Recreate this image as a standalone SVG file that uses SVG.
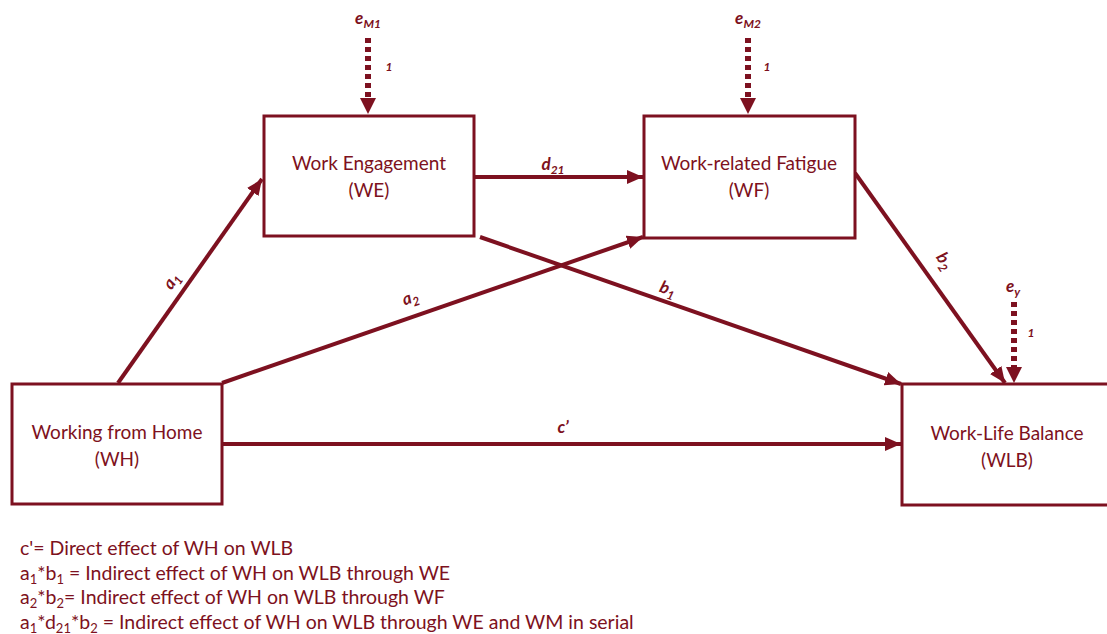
<svg xmlns="http://www.w3.org/2000/svg" width="1107" height="634" viewBox="0 0 1107 634">
<style>
.box{fill:#fff;stroke:#7d1120;stroke-width:3}
.ln{stroke:#7d1120;stroke-width:4;fill:none}
.dot{stroke:#7d1120;stroke-width:6;fill:none;stroke-dasharray:5 4}
.t{font-family:Lato,"Open Sans",sans-serif;font-size:19px;fill:#7d1120;text-anchor:middle}
.lb{font-family:Lato,"Open Sans",sans-serif;font-size:17px;font-weight:bold;font-style:italic;fill:#7d1120;text-anchor:middle}
.lg{font-family:Lato,"Open Sans",sans-serif;font-size:19.5px;fill:#7d1120}
.sub{font-size:12px}
.lsub{font-size:13px}
</style>
<defs>
<marker id="ah" markerUnits="userSpaceOnUse" markerWidth="18" markerHeight="16" refX="16" refY="8" orient="auto">
<path d="M0,1 L16,8 L0,15 Z" fill="#7d1120"/>
</marker>
</defs>
<g id="connectors">
<line class="ln" x1="118" y1="383" x2="262" y2="179" marker-end="url(#ah)"/>
<line class="ln" x1="222" y1="383" x2="643" y2="237" marker-end="url(#ah)"/>
<line class="ln" x1="474" y1="177" x2="643" y2="177" marker-end="url(#ah)"/>
<line class="ln" x1="480" y1="237" x2="901" y2="384" marker-end="url(#ah)"/>
<line class="ln" x1="855" y1="173" x2="1005" y2="383" marker-end="url(#ah)"/>
<line class="ln" x1="222" y1="444" x2="901" y2="444" marker-end="url(#ah)"/>
<line class="dot" x1="368" y1="38" x2="368" y2="98"/>
<path d="M360,98 L376,98 L368,114 Z" fill="#7d1120"/>
<line class="dot" x1="748" y1="38" x2="748" y2="98"/>
<path d="M740,98 L756,98 L748,114 Z" fill="#7d1120"/>
<line class="dot" x1="1014" y1="302" x2="1014" y2="367"/>
<path d="M1006,367 L1022,367 L1014,383 Z" fill="#7d1120"/>
<text class="lb" transform="translate(176,284) rotate(-55)">a<tspan class="sub" dy="4">1</tspan></text>
<text class="lb" transform="translate(412,303) rotate(-19)">a<tspan class="sub" dy="4">2</tspan></text>
<text class="lb" transform="translate(666,294) rotate(19)">b<tspan class="sub" dy="4">1</tspan></text>
<text class="lb" transform="translate(940,264) rotate(56)">b<tspan class="sub" dy="4">2</tspan></text>
<text class="lb" x="553" y="170">d<tspan class="sub" dy="4">21</tspan></text>
<text class="lb" x="563" y="433">c’</text>
<text class="lb" x="368" y="24">e<tspan class="sub" dy="4">M1</tspan></text>
<text class="lb" x="748" y="24">e<tspan class="sub" dy="4">M2</tspan></text>
<text class="lb" x="1013" y="292">e<tspan class="sub" dy="4">y</tspan></text>
<text class="lb" x="389" y="71" style="font-size:12px">1</text>
<text class="lb" x="767" y="71" style="font-size:12px">1</text>
<text class="lb" x="1031" y="337" style="font-size:12px">1</text>
</g>
<g id="WH">
<rect class="box" x="12" y="384" width="210" height="120"/>
<text class="t" x="117" y="439">Working from Home</text>
<text class="t" x="117" y="466">(WH)</text>
</g>
<g id="WE">
<rect class="box" x="264" y="116" width="210" height="120"/>
<text class="t" x="369" y="170">Work Engagement</text>
<text class="t" x="369" y="197">(WE)</text>
</g>
<g id="WF">
<rect class="box" x="644" y="116" width="211" height="122"/>
<text class="t" x="749" y="170">Work-related Fatigue</text>
<text class="t" x="749" y="197">(WF)</text>
</g>
<g id="WLB">
<rect class="box" x="902" y="384" width="210" height="121"/>
<text class="t" x="1007" y="440">Work-Life Balance</text>
<text class="t" x="1007" y="467">(WLB)</text>
</g>
<g id="legend">
<text class="lg" x="20" y="555">c'= Direct effect of WH on WLB</text>
<text class="lg" x="20" y="580">a<tspan class="lsub" dy="4">1</tspan><tspan dy="-4">*b</tspan><tspan class="lsub" dy="4">1</tspan><tspan dy="-4"> = Indirect effect of WH on WLB through WE</tspan></text>
<text class="lg" x="20" y="604">a<tspan class="lsub" dy="4">2</tspan><tspan dy="-4">*b</tspan><tspan class="lsub" dy="4">2</tspan><tspan dy="-4">= Indirect effect of WH on WLB through WF</tspan></text>
<text class="lg" x="20" y="629">a<tspan class="lsub" dy="4">1</tspan><tspan dy="-4">*d</tspan><tspan class="lsub" dy="4">21</tspan><tspan dy="-4">*b</tspan><tspan class="lsub" dy="4">2</tspan><tspan dy="-4"> = Indirect effect of WH on WLB through WE and WM in serial</tspan></text>
</g>
</svg>
